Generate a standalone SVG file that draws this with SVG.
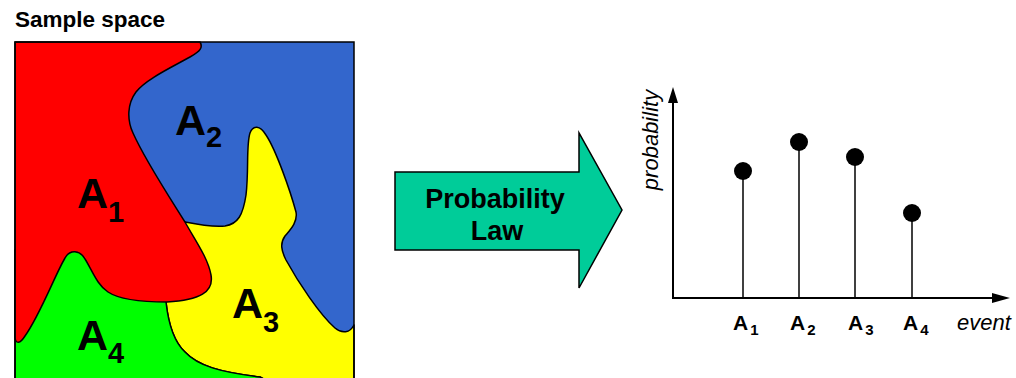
<svg xmlns="http://www.w3.org/2000/svg" width="1016" height="378" viewBox="0 0 1016 378">
<style>
.t{font-family:"Liberation Sans",Arial,sans-serif;font-weight:bold;fill:#000}
.ti{font-family:"Liberation Sans",Arial,sans-serif;font-style:italic;fill:#000}
.reg{stroke:#000;stroke-width:1.5;stroke-linejoin:round}
.ax{stroke:#000;stroke-width:2;fill:none}
.stem{stroke:#000;stroke-width:1.5}
</style>
<rect width="1016" height="378" fill="#fff"/>
<text class="t" x="15" y="27" font-size="22.5">Sample space</text>
<g id="sample-space">
  <rect x="15" y="42" width="339" height="345" fill="#3366CC"/>
  <g id="A3">
    <path class="reg" fill="#FFFF00" d="M185,222 C200,225 215,227 225,226 C238,224 243,215 246,195 C249,170 246,145 250,133 C253,125 260,125 266,135 C276,150 290,190 296,212 C298,222 290,230 285,236 C280,243 281,250 286,260 C298,282 320,315 335,328 C342,334 350,333 354,325 L354,385 L275,385 L260,377 C220,372 198,366 185,352 C172,340 168,320 166,302 L150,260 Z"/>
    <text class="t" x="232" y="318" font-size="43">A<tspan dy="14" font-size="29">3</tspan></text>
  </g>
  <g id="A4">
    <path class="reg" fill="#00FF00" d="M15,250 L167,250 L166,302 C168,320 172,340 185,352 C198,366 220,372 260,377 L275,385 L15,385 Z"/>
    <text class="t" x="77" y="350" font-size="43">A<tspan dy="13" font-size="29">4</tspan></text>
  </g>
  <g id="A1">
    <path class="reg" fill="#FF0000" d="M15,42 L200,42 C203,47 201,51 190,57 C170,68 145,80 136,92 C127,104 127,120 133,133 C145,160 170,198 185,222 C195,240 208,258 211,275 C214,292 200,300 167,302 C145,302 120,300 108,292 C97,285 92,270 85,259 C80,250 70,249 65,258 C55,275 40,315 25,336 C20,344 16,344 15,338 Z"/>
    <text class="t" x="77" y="208" font-size="43">A<tspan dy="14" font-size="29">1</tspan></text>
  </g>
  <g id="A2">
    <text class="t" x="175" y="135" font-size="43">A<tspan dy="12" font-size="29">2</tspan></text>
  </g>
  <rect x="15" y="42" width="339" height="345" fill="none" stroke="#000" stroke-width="1.5"/>
</g>
<g id="probability-law">
  <polygon points="395,172 579,172 579,133 622,210 579,288 579,250 395,250" fill="#00CC99" stroke="#000" stroke-width="1.5" stroke-linejoin="miter"/>
  <text class="t" x="495" y="208" font-size="27" text-anchor="middle">Probability</text>
  <text class="t" x="497" y="240" font-size="27" text-anchor="middle">Law</text>
</g>
<g id="chart">
  <g id="axes">
    <line class="ax" x1="673" y1="100" x2="673" y2="298"/>
    <line class="ax" x1="672" y1="298" x2="995" y2="298"/>
    <polygon points="673,87 668,103 678,103" fill="#000"/>
    <polygon points="1010,298 992,293 992,303" fill="#000"/>
  </g>
  <g id="stems">
    <line class="stem" x1="743" y1="171" x2="743" y2="298"/>
    <line class="stem" x1="799" y1="142" x2="799" y2="298"/>
    <line class="stem" x1="855" y1="157" x2="855" y2="298"/>
    <line class="stem" x1="912" y1="213" x2="912" y2="298"/>
    <circle cx="743" cy="171" r="9" fill="#000"/>
    <circle cx="799" cy="142" r="9" fill="#000"/>
    <circle cx="855" cy="157" r="9" fill="#000"/>
    <circle cx="912" cy="213" r="9" fill="#000"/>
  </g>
  <text class="ti" x="658" y="140" font-size="22" text-anchor="middle" transform="rotate(-90 658 140)">probability</text>
  <text class="ti" x="957" y="330" font-size="22">event</text>
  <text class="t" x="733" y="330" font-size="21">A<tspan dx="2" dy="5" font-size="15">1</tspan></text>
  <text class="t" x="790" y="330" font-size="21">A<tspan dx="2" dy="5" font-size="15">2</tspan></text>
  <text class="t" x="848" y="330" font-size="21">A<tspan dx="2" dy="5" font-size="15">3</tspan></text>
  <text class="t" x="903" y="330" font-size="21">A<tspan dx="2" dy="5" font-size="15">4</tspan></text>
</g>
</svg>
